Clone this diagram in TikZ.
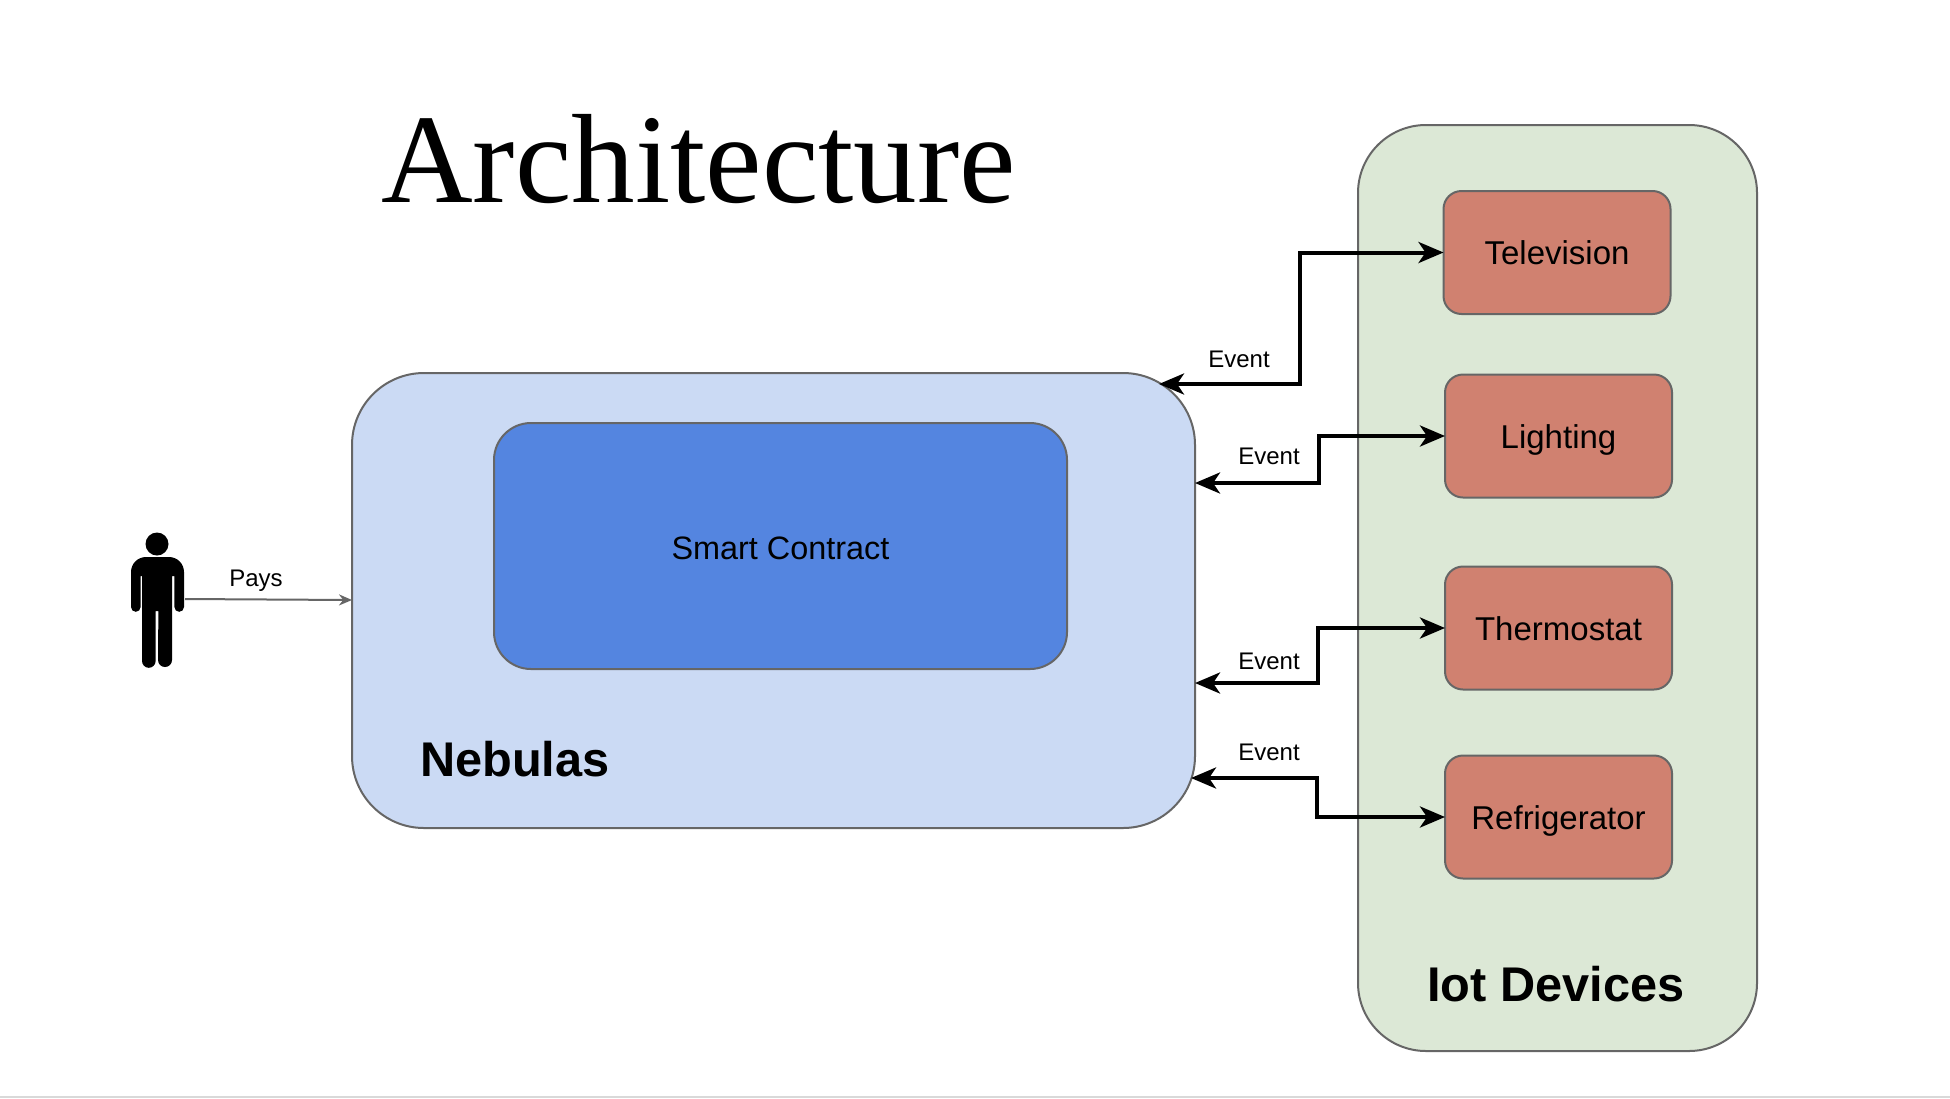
\documentclass[tikz,border=0pt]{standalone}
\usepackage{fontspec}
\setmainfont{Liberation Sans}
\newfontfamily\titlefont{Liberation Serif}
\usetikzlibrary{arrows.meta,positioning}
\definecolor{nebfill}{HTML}{CBDAF4}
\definecolor{scfill}{HTML}{5485E0}
\definecolor{iotfill}{HTML}{DCE8D6}
\definecolor{devfill}{HTML}{D08170}
\definecolor{edge}{HTML}{666666}
\tikzset{
  box/.style={draw=edge,line width=2pt,minimum width=#1,inner sep=0pt,outer sep=0pt},
  device/.style={box=227pt,fill=devfill,minimum height=123pt,rounded corners=18pt,text height=28pt,text depth=4pt,font=\fontsize{33}{36}\selectfont},
  lab/.style={inner sep=0pt,black,font=\fontsize{24}{28}\selectfont},
  evt/.style={line width=4pt,black,{Stealth[length=25pt,width=21pt,inset=7pt]}-{Stealth[length=25pt,width=21pt,inset=7pt]}},
  pay/.style={line width=2pt,edge,-{Stealth[length=13pt,width=11pt]}},
  bold/.style={inner sep=0pt,font=\bfseries\fontsize{48.7}{52}\selectfont}
}
\begin{document}
\begin{tikzpicture}[x=1pt,y=-1pt]
\useasboundingbox (0,0) rectangle (1950,1098);
\fill[white] (0,0) rectangle (1950,1098);
\fill[black!15] (0,1096) rectangle (1950,1098);
\node[inner sep=0pt,anchor=base west,font=\titlefont\fontsize{127}{130}\selectfont] (title) at (381,202) {Architecture};
\node[box=399pt,fill=iotfill,minimum height=926pt,rounded corners=68pt] (iot) at (1557.5,588) {};
\node[box=843pt,fill=nebfill,minimum height=455pt,rounded corners=72pt] (neb) at (773.5,600.5) {};
\node[box=573pt,fill=scfill,minimum height=246pt,rounded corners=37pt,text height=30pt,text depth=3pt,font=\fontsize{32.4}{36}\selectfont] (sc) at (780.5,546) {Smart Contract};
\node[device] (tv) at (1557,252.5) {Television};
\node[device] (light) at (1558.5,436) {Lighting};
\node[device] (thermo) at (1558.5,628) {Thermostat};
\node[device] (fridge) at (1558.5,817) {Refrigerator};
\node[bold,anchor=west] (neblabel) at (420,759) {Nebulas};
\node[bold] (iotlabel) at (1556,984) {Iot Devices};
% person
\fill[black] (157,544) circle (11.5);
\fill[black]
  (131,607) -- (131,572) arc (180:270:15) -- (169,557) arc (270:360:15) -- (184,607)
  arc (0:180:4.8) -- (174.4,576) -- (172,576) -- (172,660) arc (0:180:7) -- (158.4,611) -- (155.6,611) -- (155.6,661) arc (0:180:6.8) -- (142,576) -- (140.6,576) -- (140.6,607) arc (0:180:4.8) -- cycle;
\coordinate (person) at (185,599);
\coordinate (nebpay) at (neb.west |- 0,600);
\coordinate (n1) at (1159,384);
\coordinate (n2) at (1195,483);
\coordinate (n3) at (1195,683);
\coordinate (n4) at (1191,778);
\draw[pay] (person) -- (nebpay);
\node[lab] (pays) at (256,581) {Pays};
\draw[evt] (n1) -- (1300,384) -- (1300,252.5) -- (tv.west);
\draw[evt] (n2) -- (1319,483) -- (1319,436) -- (light.west);
\draw[evt] (n3) -- (1318,683) -- (1318,628) -- (thermo.west);
\draw[evt] (n4) -- (1317,778) -- (1317,817) -- (fridge.west);
\node[lab] (e1) at (1239,359) {Event};
\node[lab] (e2) at (1269,456) {Event};
\node[lab] (e3) at (1269,661) {Event};
\node[lab] (e4) at (1269,752) {Event};
\end{tikzpicture}
\end{document}
